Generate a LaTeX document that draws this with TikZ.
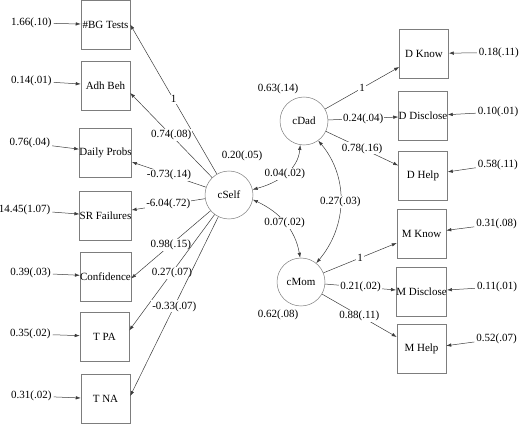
\documentclass[tikz,border=0pt]{standalone}
\usepackage{fontspec}
\setmainfont{Liberation Serif}
\usepackage{tikz}
\usetikzlibrary{arrows.meta,positioning}
\definecolor{boxgray}{RGB}{125,125,125}
\definecolor{linkgray}{RGB}{60,60,60}
\newcommand{\semfont}{\fontsize{11}{13}\selectfont}

\begin{document}
\begin{tikzpicture}[
  x=1pt, y=1pt, >={Latex[length=5pt,width=3.5pt]},
  obs/.style={draw=boxgray, line width=0.5pt, minimum width=49pt, minimum height=49pt,
              inner sep=0pt, font=\semfont},
  lat/.style={draw=boxgray, line width=0.5pt, circle, minimum size=48pt, inner sep=0pt,
              font=\semfont},
  lbl/.style={font=\semfont, inner sep=2pt},
  wt/.style={lbl, fill=white, inner sep=1pt},
  lnk/.style={draw=linkgray, line width=0.5pt, ->}]
\useasboundingbox (0,0) rectangle (520,-425);
% indicators of the self factor
\node[obs] (bgt) at (105.5,-24.5) {\#BG Tests};
\node[obs] (adh) at (105.5,-85.5) {Adh Beh};
\node[obs] (dly) at (105.5,-152.5) {Daily Probs};
\node[obs] (srf) at (105.5,-216) {SR Failures};
\node[obs] (cnf) at (105.5,-276.5) {Confidence};
\node[obs] (tpa) at (104.5,-336.5) {T PA};
\node[obs] (tna) at (105.5,-399) {T NA};
% latent factors
\node[lat] (cself) at (229,-195) {cSelf};
\node[lat] (cdad) at (304,-121) {cDad};
\node[lat] (cmom) at (301,-282) {cMom};
\node[lbl] (vself) at (242,-156) {0.20(.05)};
\node[lbl] (vdad) at (278,-89) {0.63(.14)};
\node[lbl] (vmom) at (278,-315) {0.62(.08)};
% indicators of the parent factors
\node[obs] (dknow) at (424,-53.5) {D Know};
\node[obs] (ddis) at (423,-116) {D Disclose};
\node[obs] (dhelp) at (423,-175.5) {D Help};
\node[obs] (mknow) at (421.5,-233.5) {M Know};
\node[obs] (mdis) at (421.5,-291.5) {M Disclose};
\node[obs] (mhelp) at (421.5,-349) {M Help};
% error variances
\node[lbl, left=27pt of bgt, yshift=1.5pt] (ebgt) {1.66(.10)};
\node[lbl, left=27pt of adh, yshift=4.5pt] (eadh) {0.14(.01)};
\node[lbl, left=27pt of dly, yshift=9.5pt] (edly) {0.76(.04)};
\node[lbl, left=27pt of srf, yshift=6pt] (esrf) {14.45(1.07)};
\node[lbl, left=27pt of cnf, yshift=3.5pt] (ecnf) {0.39(.03)};
\node[lbl, left=27pt of tpa, yshift=2.5pt] (etpa) {0.35(.02)};
\node[lbl, left=27pt of tna, yshift=3pt] (etna) {0.31(.02)};
\node[lbl, right=28pt of dknow, yshift=1pt] (edknow) {0.18(.11)};
\node[lbl, right=28pt of ddis, yshift=4pt] (eddis) {0.10(.01)};
\node[lbl, right=28pt of dhelp, yshift=11pt] (edhelp) {0.58(.11)};
\node[lbl, right=28pt of mknow, yshift=9.5pt] (emknow) {0.31(.08)};
\node[lbl, right=28pt of mdis, yshift=4.5pt] (emdis) {0.11(.01)};
\node[lbl, right=28pt of mhelp, yshift=10pt] (emhelp) {0.52(.07)};
\foreach \e/\o in {ebgt/bgt,eadh/adh,edly/dly,esrf/srf,ecnf/cnf,etpa/tpa,etna/tna,
                   edknow/dknow,eddis/ddis,edhelp/dhelp,emknow/mknow,emdis/mdis,emhelp/mhelp}
  \draw[lnk] (\e) -- (\o);
% loadings
\draw[lnk] (cself) -- (bgt.east) node[wt, pos=0.5] {1};
\draw[lnk] (cself) -- ([yshift=-7.5pt]adh.east) node[wt, pos=0.5] {0.74(.08)};
\draw[lnk] (cself) -- ([yshift=-9.5pt]dly.east) node[wt, pos=0.5] {-0.73(.14)};
\draw[lnk] (cself) -- ([yshift=6pt]srf.east) node[wt, pos=0.5] {-6.04(.72)};
\draw[lnk] (cself) -- ([yshift=-2pt]cnf.east) node[wt, pos=0.5] {0.98(.15)};
\draw[lnk] (cself) -- ([yshift=6pt]tpa.east) node[wt, pos=0.5] {0.27(.07)};
\draw[lnk] (cself) -- ([yshift=3pt]tna.east) node[wt, pos=0.5] {-0.33(.07)};
\draw[lnk] (cdad) -- ([yshift=-13.5pt]dknow.west) node[wt, pos=0.5] {1};
\draw[lnk] (cdad) -- ([yshift=-1pt]ddis.west) node[wt, pos=0.5] {0.24(.04)};
\draw[lnk] (cdad) -- ([yshift=10pt]dhelp.west) node[wt, pos=0.5] {0.78(.16)};
\draw[lnk] (cmom) -- ([yshift=-9.5pt]mknow.west) node[wt, pos=0.5] {1};
\draw[lnk] (cmom) -- ([yshift=1.5pt]mdis.west) node[wt, pos=0.5] {0.21(.02)};
\draw[lnk] (cmom) -- ([yshift=12pt]mhelp.west) node[wt, pos=0.5] {0.88(.11)};
% covariances
\draw[lnk, <->] (cself.13) to[out=15, in=-95] node[wt] {0.04(.02)} (cdad.-99);
\draw[lnk, <->] (cself.-11) to[out=-25, in=100] node[wt] {0.07(.02)} (cmom.92);
\draw[lnk, <->] (cdad.-54) to[out=-50, in=50] node[wt] {0.27(.03)} (cmom.51);
\end{tikzpicture}
\end{document}
